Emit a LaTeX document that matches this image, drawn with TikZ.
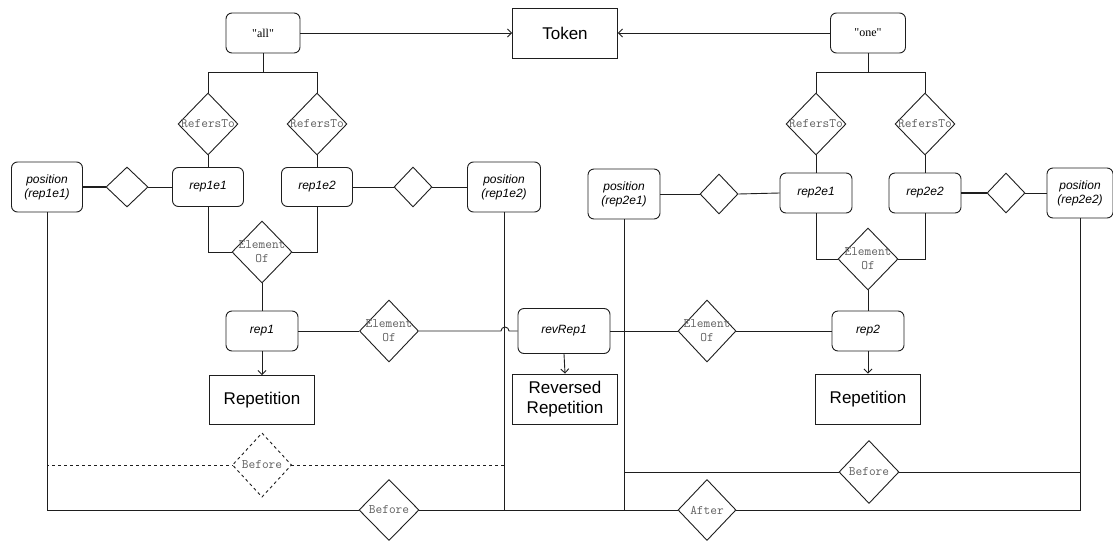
\documentclass[tikz,border=0pt]{standalone}
\usepackage{fontspec}
\setmainfont{Liberation Sans}
\newfontfamily\serifx{Liberation Serif}
\usetikzlibrary{shapes.geometric,arrows.meta}
\definecolor{linec}{RGB}{30,30,30}
\definecolor{monoc}{RGB}{95,95,95}
\begin{document}
\begin{tikzpicture}[x=1pt,y=-1pt,line width=0.9pt,draw=linec,
  ent/.style={draw=linec,line width=0.9pt,rounded corners=6pt,minimum width=72pt,minimum height=40pt,inner sep=1pt,align=center,font=\fontsize{12}{14}\selectfont\itshape},
  posbox/.style={ent,minimum height=50pt},
  lit/.style={ent,font=\fontsize{12}{14}\selectfont\serifx},
  cls/.style={draw=linec,line width=0.9pt,minimum width=105pt,minimum height=50pt,inner sep=1pt,align=center,font=\fontsize{17}{20}\selectfont},
  rel/.style={draw=linec,line width=0.9pt,diamond,minimum width=60pt,minimum height=62pt,inner sep=0pt},
  sdia/.style={draw=linec,line width=0.9pt,diamond,minimum width=40pt,minimum height=40pt,inner sep=0pt},
  lab/.style={font=\fontsize{13}{14}\selectfont\ttfamily,text=monoc,align=center,inner sep=0pt},
  arr/.style={-{Straight Barb[length=4pt,width=8pt]}},
  dsh/.style={dash pattern=on 3pt off 3pt},
  thk/.style={line width=1.8pt}
]
\useasboundingbox (0,0) rectangle (1113,541);

% top
\node[lit,minimum width=74pt] (all) at (263,33) {"all"};
\node[cls] (token) at (565,33) {Token};
\node[lit,minimum width=75pt] (one) at (868,33) {"one"};

% RefersTo diamonds
\node[rel,label={[lab]center:RefersTo}] (rt1) at (208,124) {};
\node[rel,label={[lab]center:RefersTo}] (rt2) at (317,124) {};
\node[rel,label={[lab]center:RefersTo}] (rt3) at (816,124) {};
\node[rel,label={[lab]center:RefersTo}] (rt4) at (925,124) {};

% element nodes
\node[ent,minimum width=71pt,minimum height=39pt] (rep1e1) at (208,187) {rep1e1};
\node[ent,minimum width=71pt,minimum height=39pt] (rep1e2) at (317,187) {rep1e2};
\node[ent] (rep2e1) at (816,193) {rep2e1};
\node[ent] (rep2e2) at (925,193) {rep2e2};

% positions
\node[posbox,minimum width=71pt] (pos11) at (47,187) {position\\(rep1e1)};
\node[posbox,minimum width=73pt] (pos12) at (504,187) {position\\(rep1e2)};
\node[posbox] (pos21) at (624,194) {position\\(rep2e1)};
\node[posbox,minimum width=66pt] (pos22) at (1080,193) {position\\(rep2e2)};

% small diamonds
\node[sdia,minimum width=42pt] (d11) at (127,187) {};
\node[sdia,minimum width=38pt] (d12) at (413,187) {};
\node[sdia,minimum width=38pt] (d21) at (719,194) {};
\node[sdia,minimum width=38pt] (d22) at (1006,193) {};

% ElementOf diamonds
\node[rel,label={[lab]center:{Element\\Of}}] (eo1) at (262,252) {};
\node[rel,label={[lab]center:{Element\\Of}}] (eo2) at (868,259) {};
\node[rel,minimum width=59pt,label={[lab]center:{Element\\Of}}] (eo3) at (389,331) {};
\node[rel,minimum width=58pt,label={[lab]center:{Element\\Of}}] (eo4) at (707,331) {};

% reps
\node[ent] (rep1) at (262,331) {rep1};
\node[ent,minimum width=92pt,minimum height=45pt] (revrep1) at (564,331) {revRep1};
\node[ent] (rep2) at (868,331) {rep2};

% classes
\node[cls,minimum height=49pt] (repet1) at (262,400) {Repetition};
\node[cls] (revrepc) at (565,399) {Reversed\\Repetition};
\node[cls] (repet2) at (868,399) {Repetition};

% Before / After
\node[rel,draw=none,minimum width=58pt,minimum height=63pt,label={[lab]center:Before}] (bd) at (262,465) {};
\draw[dsh] (bd.north) -- (bd.east) -- (bd.south) -- (bd.west) -- cycle;
\node[rel,minimum height=61pt,label={[lab]center:Before}] (b1) at (389,510) {};
\node[rel,minimum width=58pt,minimum height=61pt,label={[lab]center:After}] (af) at (707,510) {};
\node[rel,minimum height=63pt,label={[lab]center:Before}] (b2) at (869,472) {};

% coordinates
\coordinate (j1) at (263,72);
\coordinate (j2) at (868,72);
\coordinate (hopA) at (501,331);

% connectors top
\draw[arr] (all.east) -- (token.west);
\draw[arr] (one.west) -- (token.east);
\draw (all.south) -- (j1) -| (rt1.north);
\draw (j1) -| (rt2.north);
\draw (one.south) -- (j2) -| (rt3.north);
\draw (j2) -| (rt4.north);
\draw (rt1.south) -- (rep1e1.north);
\draw (rt2.south) -- (rep1e2.north);
\draw (rt3.south) -- (rep2e1.north);
\draw (rt4.south) -- (rep2e2.north);

% position links
\draw[thk] (pos11.east) -- (d11.west);
\draw (d11.east) -- (rep1e1.west);
\draw (rep1e2.east) -- (d12.west);
\draw (d12.east) -- (pos12.west);
\draw (pos21.east) -- (d21.west);
\draw (d21.east) -- (rep2e1.west);
\draw[thk] (rep2e2.east) -- (d22.west);
\draw (d22.east) -- (pos22.west);

% element of
\draw (rep1e1.south) |- (eo1.west);
\draw (rep1e2.south) |- (eo1.east);
\draw (rep2e1.south) |- (eo2.west);
\draw (rep2e2.south) |- (eo2.east);
\draw (eo1.south) -- (rep1.north);
\draw (eo2.south) -- (rep2.north);
\draw[arr] (rep1.south) -- (repet1.north);
\draw[arr] (rep2.south) -- (repet2.north);
\draw[arr] (revrep1.south) -- (revrepc.north);
\draw (rep1.east) -- (eo3.west);
\draw (eo3.east) -- (hopA) arc[start angle=180,end angle=0,radius=4pt] -- (revrep1.west);
\draw (revrep1.east) -- (eo4.west);
\draw (eo4.east) -- (rep2.west);

% before/after
\draw[dsh] (pos11.south) |- (bd.west);
\draw[dsh] (bd.east) -| (pos12.south);
\draw (pos11.south) |- (b1.west);
\draw (b1.east) -| (pos21.south);
\draw (af.west) -| (pos12.south);
\draw (af.east) -| (pos22.south);
\draw (pos21.south) |- (b2.west);
\draw (b2.east) -| (pos22.south);
\end{tikzpicture}
\end{document}
